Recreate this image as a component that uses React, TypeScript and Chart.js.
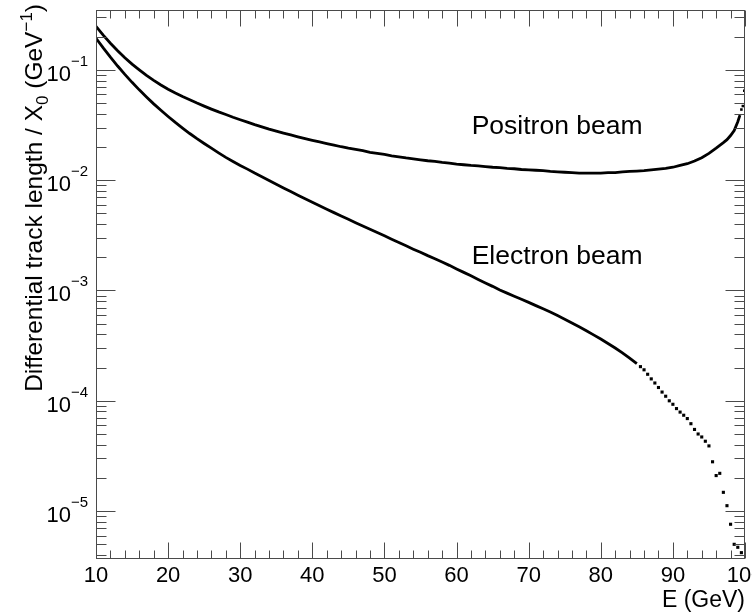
import React, { useEffect, useRef } from "react";
import { Chart, registerables } from "chart.js";

Chart.register(...registerables);

// ---------------- data ----------------
const positronE = [
  10, 11, 12, 13, 14, 15, 16, 17, 18, 19, 20, 21, 22, 23, 24, 25, 26, 27, 28, 29,
  30, 31, 32, 33, 34, 35, 36, 37, 38, 39, 40, 41, 42, 43, 44, 45, 46, 47, 48, 49,
  50, 51, 52, 53, 54, 55, 56, 57, 58, 59, 60, 61, 62, 63, 64, 65, 66, 67, 68, 69,
  70, 71, 72, 73, 74, 75, 76, 77, 78, 79, 80, 81, 82, 83, 84, 85, 86, 87, 88, 89,
  90, 91, 92, 93, 94, 95, 96, 97, 97.5, 98, 98.5, 99, 99.3,
];
const positronVal = [
  0.2477, 0.2065, 0.1746, 0.1493, 0.1288, 0.1127, 0.1, 0.0891, 0.0804, 0.0729,
  0.0668, 0.0617, 0.0573, 0.0536, 0.05, 0.0469, 0.0441, 0.0416, 0.0394, 0.0372,
  0.0353, 0.0336, 0.0319, 0.0304, 0.029, 0.0278, 0.0267, 0.0257, 0.0247, 0.0238,
  0.023, 0.0222, 0.0215, 0.0208, 0.0201, 0.0195, 0.019, 0.0185, 0.0179, 0.0175,
  0.0171, 0.0166, 0.0163, 0.0159, 0.0156, 0.0153, 0.015, 0.0148, 0.0145, 0.0143,
  0.014, 0.0138, 0.0136, 0.0135, 0.0133, 0.0131, 0.013, 0.0128, 0.0127, 0.0125,
  0.0124, 0.0123, 0.0122, 0.012, 0.0119, 0.0118, 0.0117, 0.0116, 0.0116, 0.0116,
  0.0116, 0.0117, 0.0117, 0.0119, 0.012, 0.0121, 0.0122, 0.0124, 0.0126, 0.0128,
  0.0131, 0.0136, 0.0141, 0.0149, 0.016, 0.0175, 0.0195, 0.0219, 0.0233, 0.0254,
  0.0282, 0.0339, 0.0389,
];
// isolated last bins of the positron spectrum
const positronEndE = [99.5, 99.7, 99.9];
const positronEndVal = [0.0437, 0.047, 0.0646];

const electronE = [
  10, 11, 12, 13, 14, 15, 16, 17, 18, 19, 20, 21, 22, 23, 24, 25, 26, 27, 28, 29,
  30, 31, 32, 33, 34, 35, 36, 37, 38, 39, 40, 41, 42, 43, 44, 45, 46, 47, 48, 49,
  50, 51, 52, 53, 54, 55, 56, 57, 58, 59, 60, 61, 62, 63, 64, 65, 66, 67, 68, 69,
  70, 71, 72, 73, 74, 75, 76, 77, 78, 79, 80, 81, 82, 83, 84, 85,
];
const electronVal = [
  0.1936, 0.1581, 0.1303, 0.1084, 0.091, 0.0771, 0.0659, 0.0568, 0.0492, 0.043,
  0.0378, 0.0334, 0.0297, 0.0265, 0.0238, 0.0215, 0.0195, 0.0177, 0.0161, 0.0148,
  0.0136, 0.0126, 0.0116, 0.01076, 0.00995, 0.0092, 0.00851, 0.00789, 0.00731, 0.00679,
  0.00631, 0.00586, 0.00546, 0.00508, 0.00473, 0.00442, 0.00412, 0.00385, 0.00359, 0.00335,
  0.00313, 0.00292, 0.00272, 0.00254, 0.00237, 0.00222, 0.00207, 0.00194, 0.00181, 0.00169,
  0.00157, 0.00146, 0.00136, 0.00126, 0.00117, 0.00109, 0.00101, 0.000946, 0.000887, 0.000832,
  0.00078, 0.000729, 0.000682, 0.000638, 0.000593, 0.00055, 0.000508, 0.000469, 0.000432, 0.000396,
  0.000363, 0.000331, 0.000301, 0.000272, 0.000244, 0.000217,
];
// sparse, fluctuating tail of the electron spectrum
const electronTailE = [
  85.5, 86, 86.5, 87, 87.5, 88, 88.5, 89, 89.5, 90, 90.5, 91, 91.5, 92, 92.5, 93,
  93.5, 94, 94.5, 95, 95.5, 96, 96.5, 97, 97.5, 98, 98.5, 99, 99.5,
];
const electronTailVal = [
  2.04e-4, 1.91e-4, 1.74e-4, 1.58e-4, 1.45e-4, 1.32e-4, 1.2e-4, 1.1e-4, 1.0e-4, 9.3e-5,
  8.5e-5, 7.9e-5, 7.4e-5, 6.9e-5, 6.2e-5, 5.5e-5, 5.0e-5, 4.7e-5, 4.3e-5, 3.9e-5,
  2.8e-5, 2.1e-5, 2.2e-5, 1.48e-5, 1.12e-5, 7.6e-6, 5.0e-6, 4.7e-6, 4.2e-6,
];

const X_MIN = 10;
const X_MAX = 100;
const Y_MIN = 3.68e-6;
const Y_MAX = 0.349;
const xMajorTicks = [10, 20, 30, 40, 50, 60, 70, 80, 90, 100];
const xTickLabels = ["10", "20", "30", "40", "50", "60", "70", "80", "90", "100"];
const yMajorExponents = [-1, -2, -3, -4, -5];
const xTitle = "E (GeV)";
const yTitleParts = [
  { t: "Differential track length / X", k: "n" },
  { t: "0", k: "sub" },
  { t: " (GeV", k: "n" },
  { t: "\u22121", k: "sup" },
  { t: ")", k: "n" },
];
const labelTexts = ["Positron beam", "Electron beam"];
const labelE = [62.1, 62.1];
const labelVal = [0.0262, 0.00175];

const FONT = "'Liberation Sans', Arial, Helvetica, sans-serif";

function toXY(xs: number[], ys: number[]) {
  return xs.map((x, i) => ({ x, y: ys[i] }));
}

const rootFramePlugin = {
  id: "rootFrame",
  afterDatasetsDraw(chart: any) {
    const { ctx, chartArea: a, scales } = chart;
    const xs = scales.x;
    const ys = scales.y;
    ctx.save();
    const L = Math.round(a.left) + 0.5;
    const R = Math.round(a.right) - 0.5;
    const T = Math.round(a.top) + 0.5;
    const B = Math.round(a.bottom) - 0.5;
    ctx.strokeStyle = "#4a4a4a";
    ctx.lineWidth = 1;
    ctx.strokeRect(L, T, R - L, B - T);
    ctx.beginPath();
    for (let v = X_MIN; v <= X_MAX; v += 2) {
      const px = Math.round(xs.getPixelForValue(v)) + 0.5;
      const len = v % 10 === 0 ? 16 : 8;
      ctx.moveTo(px, B);
      ctx.lineTo(px, B - len);
      ctx.moveTo(px, T);
      ctx.lineTo(px, T + len);
    }
    for (let d = -6; d <= 0; d++) {
      for (let m = 1; m <= 9; m++) {
        const v = m * Math.pow(10, d);
        if (v < Y_MIN || v > Y_MAX) continue;
        const py = Math.round(ys.getPixelForValue(v)) + 0.5;
        const len = m === 1 ? 19 : 10;
        ctx.moveTo(L, py);
        ctx.lineTo(L + len, py);
        ctx.moveTo(R, py);
        ctx.lineTo(R - len, py);
      }
    }
    ctx.stroke();

    // x tick labels
    ctx.fillStyle = "#000";
    ctx.font = `22px ${FONT}`;
    ctx.textAlign = "center";
    ctx.textBaseline = "alphabetic";
    xMajorTicks.forEach((v, i) => {
      ctx.fillText(xTickLabels[i], xs.getPixelForValue(v), a.bottom + 23);
    });

    // y tick labels 10^{n}
    yMajorExponents.forEach((e) => {
      const py = ys.getPixelForValue(Math.pow(10, e));
      const sup = "\u2212" + String(-e);
      ctx.font = `15px ${FONT}`;
      const ws = ctx.measureText(sup).width;
      ctx.font = `22px ${FONT}`;
      const wb = ctx.measureText("10").width;
      const right = a.left - 8;
      ctx.textAlign = "left";
      ctx.fillText("10", right - ws - wb, py + 11);
      ctx.font = `15px ${FONT}`;
      ctx.fillText(sup, right - ws, py - 4);
    });

    // x title
    ctx.font = `23px ${FONT}`;
    ctx.textAlign = "right";
    ctx.fillText(xTitle, a.right, a.bottom + 48);

    // y title (rotated, right aligned at top)
    ctx.save();
    ctx.translate(42, 4);
    ctx.rotate(-Math.PI / 2);
    const sizeOf = (k: string) => (k === "n" ? 24.5 : 17);
    let total = 0;
    yTitleParts.forEach((p) => {
      ctx.font = `${sizeOf(p.k)}px ${FONT}`;
      total += ctx.measureText(p.t).width;
    });
    let cx = -total;
    ctx.textAlign = "left";
    yTitleParts.forEach((p) => {
      ctx.font = `${sizeOf(p.k)}px ${FONT}`;
      const dy = p.k === "sub" ? 6 : p.k === "sup" ? -10 : 0;
      ctx.fillText(p.t, cx, dy);
      cx += ctx.measureText(p.t).width;
    });
    ctx.restore();

    // curve labels
    ctx.font = `26.5px ${FONT}`;
    ctx.textAlign = "left";
    labelTexts.forEach((t, i) => {
      ctx.fillText(t, xs.getPixelForValue(labelE[i]), ys.getPixelForValue(labelVal[i]));
    });
    ctx.restore();
  },
};

export default function App() {
  const ref = useRef<HTMLCanvasElement | null>(null);
  useEffect(() => {
    if (!ref.current) return;
    const chart = new Chart(ref.current, {
      type: "scatter",
      data: {
        datasets: [
          {
            data: toXY(positronE, positronVal),
            showLine: true,
            borderColor: "#000",
            borderWidth: 2.8,
            pointRadius: 0,
            tension: 0,
          },
          {
            data: toXY(positronEndE, positronEndVal),
            showLine: false,
            pointStyle: "rect",
            pointRadius: 1.8,
            backgroundColor: "#000",
            borderColor: "#000",
            borderWidth: 0,
          },
          {
            data: toXY(electronE, electronVal),
            showLine: true,
            borderColor: "#000",
            borderWidth: 2.8,
            pointRadius: 0,
            tension: 0,
          },
          {
            data: toXY(electronTailE, electronTailVal),
            showLine: false,
            pointStyle: "rect",
            pointRadius: 2.2,
            backgroundColor: "#000",
            borderColor: "#000",
            borderWidth: 0,
          },
        ],
      },
      options: {
        responsive: false,
        animation: false,
        layout: { padding: { left: 96, right: 7, top: 10, bottom: 55 } },
        plugins: { legend: { display: false }, tooltip: { enabled: false } },
        events: [],
        scales: {
          x: { type: "linear", min: X_MIN, max: X_MAX, display: false },
          y: { type: "logarithmic", min: Y_MIN, max: Y_MAX, display: false },
        },
      },
      plugins: [rootFramePlugin],
    });
    return () => chart.destroy();
  }, []);
  return (
    <div style={{ position: "fixed", left: 0, top: 0, width: 752, height: 614, background: "#fff" }}>
      <canvas ref={ref} width={752} height={614} style={{ display: "block" }} />
    </div>
  );
}
